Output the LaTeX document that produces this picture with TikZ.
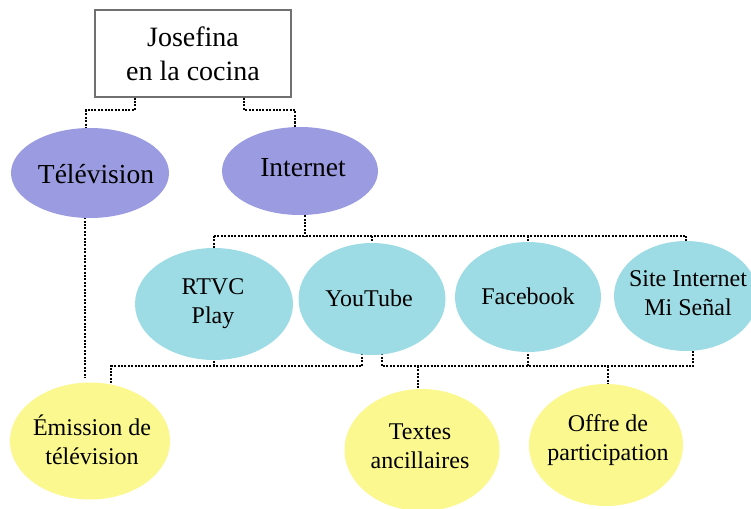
\documentclass[tikz,border=0pt]{standalone}
\usepackage{fontspec}
\setmainfont{Liberation Serif}
\usetikzlibrary{shapes.geometric,backgrounds}
\definecolor{purp}{HTML}{9B9BE1}
\definecolor{cyanf}{HTML}{9EDCE5}
\definecolor{yelf}{HTML}{FBF88F}
\definecolor{boxline}{HTML}{707070}
\tikzset{
  topbox/.style={draw=boxline,line width=1.4pt,fill=white,minimum width=196pt,minimum height=87pt,align=center,inner sep=0pt,font=\fontsize{28}{34}\selectfont},
  blob/.style={ellipse,inner sep=0pt},
  purpell/.style={blob,fill=purp},
  cyanell/.style={blob,fill=cyanf},
  yelell/.style={blob,fill=yelf},
  bigtxt/.style={inner sep=0pt,align=center,font=\fontsize{27.5}{32}\selectfont},
  smalltxt/.style={inner sep=0pt,align=center,font=\fontsize{24}{29}\selectfont},
  conn/.style={line width=2.4pt,dash pattern=on 2pt off 1.4pt,black}
}
\begin{document}
\begin{tikzpicture}[x=1pt,y=-1pt]
\useasboundingbox (0,0) rectangle (751,508);
% shapes
\node[topbox] (box) at (193,53.5) {Josefina\\en la cocina};
\node[purpell,minimum width=158pt,minimum height=90pt] (tele) at (90,173) {};
\node[purpell,minimum width=156pt,minimum height=88pt] (net) at (300,171) {};
\node[cyanell,minimum width=158pt,minimum height=112pt] (rtvc) at (214,304) {};
\node[cyanell,minimum width=147pt,minimum height=112pt] (yt) at (372,299) {};
\node[cyanell,minimum width=146pt,minimum height=110pt] (fb) at (528,297) {};
\node[cyanell,minimum width=144pt,minimum height=110pt] (site) at (686,296) {};
\node[yelell,minimum width=160pt,minimum height=117pt] (emi) at (90,441) {};
\node[yelell,minimum width=155pt,minimum height=122pt] (tex) at (422,450) {};
\node[yelell,minimum width=154pt,minimum height=122pt] (off) at (606,445) {};
% texts
\node[bigtxt] (teletxt) at (96,174) {Télévision};
\node[bigtxt] (nettxt) at (303,168) {Internet};
\node[smalltxt] (rtvctxt) at (213,304) {RTVC\\Play};
\node[smalltxt] (yttxt) at (369,298) {YouTube};
\node[smalltxt] (fbtxt) at (528,296) {Facebook};
\node[smalltxt] (sitetxt) at (688,293) {Site Internet\\Mi Señal};
\node[smalltxt] (emitxt) at (92,440) {Émission de\\télévision};
\node[smalltxt] (textxt) at (420,446) {Textes\\ancillaires};
\node[smalltxt] (offtxt) at (608,440) {Offre de\\participation};
% bend coordinates
\coordinate (a1) at (135,110);
\coordinate (a2) at (86,110);
\coordinate (b1) at (244,110);
\coordinate (b2) at (295,110);
\coordinate (c0) at (305,236);
\coordinate (t1) at (85,378);
\coordinate (d1) at (111,366);
\coordinate (d2) at (362,366);
\coordinate (e1) at (382,366);
\coordinate (e2) at (693,366);
\coordinate (e3) at (418,366);
\coordinate (e4) at (608,366);
\begin{pgfonlayer}{background}
\draw[conn] (box.south -| a1) -- (a1) -- (a2) -- (a2 |- tele.center);
\draw[conn] (box.south -| b1) -- (b1) -- (b2) -- (b2 |- net.center);
\draw[conn] (c0 |- net.center) -- (c0);
\draw[conn] (c0 -| rtvc.center) -- (c0 -| site.center);
\draw[conn] (c0 -| rtvc.center) -- (rtvc.center);
\draw[conn] (c0 -| yt.center) -- (yt.center);
\draw[conn] (c0 -| fb.center) -- (fb.center);
\draw[conn] (c0 -| site.center) -- (site.center);
\draw[conn] (t1 |- tele.center) -- (t1);
\draw[conn] (d1 -| rtvc.center) -- (rtvc.center);
\draw[conn] (d2 |- yt.center) -- (d2) -- (d1) -- (d1 |- emi.center);
\draw[conn] (e1 |- yt.center) -- (e1) -- (e2) -- (e2 |- site.center);
\draw[conn] (e1 -| fb.center) -- (fb.center);
\draw[conn] (e3) -- (e3 |- tex.center);
\draw[conn] (e4) -- (e4 |- off.center);
\end{pgfonlayer}
\end{tikzpicture}
\end{document}
